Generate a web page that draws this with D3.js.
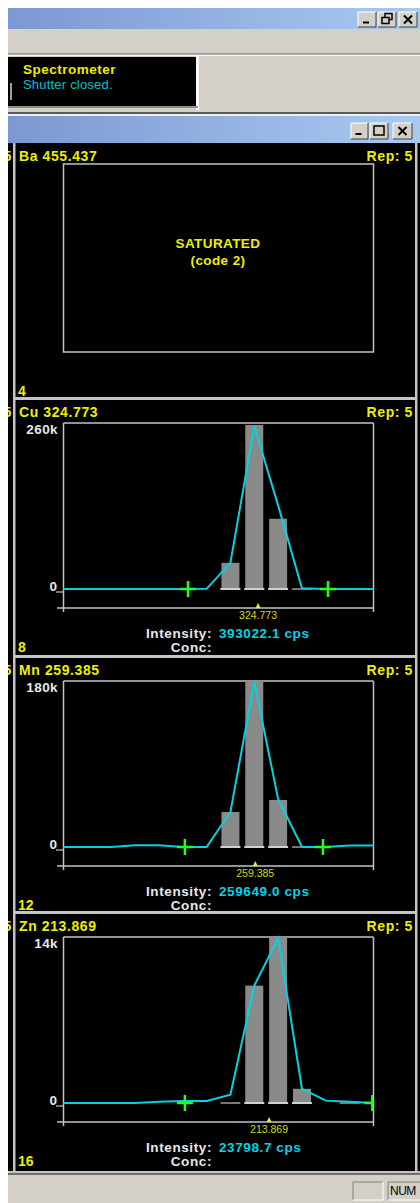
<!DOCTYPE html>
<html><head><meta charset="utf-8">
<script src="https://cdn.jsdelivr.net/npm/d3@7/dist/d3.min.js"></script>
<style>html,body{margin:0;padding:0;background:#fff;overflow:hidden}svg{display:block}</style>
</head><body>
<script>
// ---------- data ----------
const panelTitles = ["Ba 455.437", "Cu 324.773", "Mn 259.385", "Zn 213.869"];
const panelNumbers = ["4", "8", "12", "16"];
const repLabel = "Rep: 5";
const channels = [0,1,2,3,4,5,6,7,8,9,10,11,12,13];
const yMaxValues = [260000, 180000, 14000];
const yMaxLabels = ["260k", "180k", "14k"];
const peakLabels = ["324.773", "259.385", "213.869"];
const peakChannel = [8.16, 8.04, 8.62];
const intensities = ["393022.1 cps", "259649.0 cps", "23798.7 cps"];
const cuLine = [0,0,0,0,0,0,300,41000,255000,131000,1000,0,0,0];
const mnLine = [0,0,0,2000,2000,0,0,38000,179000,52000,0,0,1500,1500];
const znLine = [0,0,0,0,100,170,170,700,9900,13900,1200,200,100,0];
const cuBars = [0,0,0,0,0,0,0,41000,257000,110000,0,0,0,0];
const mnBars = [0,0,0,0,0,0,0,38000,180000,51000,0,0,0,0];
const znBars = [0,0,0,0,0,0,0,0,9900,14000,1200,0,0,0];
const floorChannels = [[7,8,9,10],[7,8,9,10],[7,8,9,10,12]];
const bkgLeft = [5.22, 5.09, 5.09];
const bkgRight = [11.09, 10.88, 12.95];
const saturatedText = ["SATURATED", "(code 2)"];

const lineSeries = [cuLine, mnLine, znLine];
const barSeries = [cuBars, mnBars, znBars];

// ---------- layout ----------
const W = 420, H = 1203;
const panelTops = [143, 399, 657, 913];
const FONT = "'Liberation Sans', Arial, sans-serif";
const YEL = "#eeee00", CYAN = "#00d4e4", WHITE = "#e8e8e8", GRID = "#c4c4c4";

const svg = d3.select("body").append("svg").attr("width", W).attr("height", H);
const defs = svg.append("defs");
const grad = defs.append("linearGradient").attr("id", "tb").attr("x1", 0).attr("x2", 1);
grad.append("stop").attr("offset", 0).attr("stop-color", "#7b98d2");
grad.append("stop").attr("offset", 1).attr("stop-color", "#a8caf1");

svg.append("rect").attr("width", W).attr("height", H).attr("fill", "#fff");

// outer title bar
svg.append("rect").attr("x", 8).attr("y", 8).attr("width", W - 8).attr("height", 21).attr("fill", "url(#tb)");
// grey band
svg.append("rect").attr("x", 8).attr("y", 29).attr("width", W - 8).attr("height", 88).attr("fill", "#d4d0c8");
svg.append("rect").attr("x", 8).attr("y", 53).attr("width", W - 8).attr("height", 1.5).attr("fill", "#9a9890");
svg.append("rect").attr("x", 8).attr("y", 55).attr("width", W - 8).attr("height", 1).attr("fill", "#f4f4f0");
// spectrometer status box
svg.append("rect").attr("x", 8).attr("y", 57).attr("width", 188).attr("height", 49).attr("fill", "#000");
svg.append("rect").attr("x", 196).attr("y", 55).attr("width", 3).attr("height", 55).attr("fill", "#fafafa");
svg.append("rect").attr("x", 8).attr("y", 106).attr("width", 190).attr("height", 2).attr("fill", "#8e8c86");
svg.append("rect").attr("x", 10).attr("y", 83).attr("width", 2).attr("height", 17).attr("fill", "#a0a0a0");
svg.append("text").attr("x", 23).attr("y", 69).attr("dominant-baseline", "central")
  .attr("font-family", FONT).attr("font-weight", "bold").attr("font-size", 13.5).attr("fill", YEL).attr("letter-spacing", 0.5).text("Spectrometer");
svg.append("text").attr("x", 23).attr("y", 84).attr("dominant-baseline", "central")
  .attr("font-family", FONT).attr("font-size", 13).attr("letter-spacing", 0.2).attr("fill", "#00c0c8").text("Shutter closed.");
// inner window title bar
svg.append("rect").attr("x", 8).attr("y", 112).attr("width", W - 8).attr("height", 2).attr("fill", "#5a5a5a");
svg.append("rect").attr("x", 8).attr("y", 114).attr("width", W - 8).attr("height", 2).attr("fill", "#f0f0f0");
svg.append("rect").attr("x", 8).attr("y", 116).attr("width", W - 8).attr("height", 27).attr("fill", "url(#tb)");

function winButton(x, y, w, h, kind) {
  const g = svg.append("g");
  g.append("rect").attr("x", x).attr("y", y).attr("width", w).attr("height", h).attr("fill", "#d4d0c8");
  g.append("path").attr("d", `M${x},${y + h}V${y}H${x + w}`).attr("stroke", "#fff").attr("fill", "none");
  g.append("path").attr("d", `M${x},${y + h}H${x + w}V${y}`).attr("stroke", "#404040").attr("fill", "none");
  const cx = x + w / 2, cy = y + h / 2;
  if (kind === "min") g.append("rect").attr("x", cx - 4).attr("y", cy + 2).attr("width", 6).attr("height", 2).attr("fill", "#000");
  if (kind === "max") g.append("rect").attr("x", cx - 5).attr("y", cy - 5).attr("width", 10).attr("height", 9).attr("fill", "none").attr("stroke", "#000").attr("stroke-width", 1.5);
  if (kind === "restore") {
    g.append("rect").attr("x", cx - 2).attr("y", cy - 6).attr("width", 7).attr("height", 6).attr("fill", "none").attr("stroke", "#000").attr("stroke-width", 1.5);
    g.append("rect").attr("x", cx - 5).attr("y", cy - 2).attr("width", 7).attr("height", 6).attr("fill", "#d4d0c8").attr("stroke", "#000").attr("stroke-width", 1.5);
  }
  if (kind === "close") g.append("path").attr("d", `M${cx - 4},${cy - 4}L${cx + 4},${cy + 4}M${cx + 4},${cy - 4}L${cx - 4},${cy + 4}`).attr("stroke", "#000").attr("stroke-width", 2);
}
winButton(358, 12, 18, 15, "min");
winButton(378, 12, 18, 15, "restore");
winButton(399, 12, 18, 15, "close");
winButton(351, 123, 17, 16, "min");
winButton(370, 123, 18, 16, "max");
winButton(393, 123, 19, 16, "close");

// black work area
svg.append("rect").attr("x", 8).attr("y", 143).attr("width", W - 8).attr("height", 1029).attr("fill", "#000");

// x scale shared by the spectra
const x = d3.scaleLinear().domain([0, 13]).range([63.5, 373.5]);

panelTops.forEach((top, i) => {
  // clipped digit from the neighbouring pane
  svg.append("text").attr("x", 3.5).attr("y", top + 13).attr("dominant-baseline", "central")
    .attr("font-family", FONT).attr("font-weight", "bold").attr("font-size", 14).attr("fill", YEL).text("5");
  // separator
  if (i > 0) svg.append("rect").attr("x", 14).attr("y", top - 2).attr("width", 403).attr("height", 3).attr("fill", GRID);
  // title
  svg.append("text").attr("x", 19).attr("y", top + 13).attr("dominant-baseline", "central")
    .attr("font-family", FONT).attr("font-weight", "bold").attr("font-size", 14).attr("letter-spacing", 0.6)
    .attr("fill", YEL).text(panelTitles[i]);
  svg.append("text").attr("x", 413).attr("y", top + 13).attr("dominant-baseline", "central").attr("text-anchor", "end")
    .attr("font-family", FONT).attr("font-weight", "bold").attr("font-size", 14).attr("letter-spacing", 0.6)
    .attr("fill", YEL).text(repLabel);
  svg.append("text").attr("x", 18).attr("y", top + 247.5).attr("dominant-baseline", "central")
    .attr("font-family", FONT).attr("font-weight", "bold").attr("font-size", 14).attr("fill", YEL).text(panelNumbers[i]);

  if (i === 0) {
    svg.append("rect").attr("x", x(0)).attr("y", top + 21).attr("width", x(13) - x(0)).attr("height", 188)
      .attr("fill", "none").attr("stroke", GRID).attr("stroke-width", 1.5);
    saturatedText.forEach((t, k) => {
      svg.append("text").attr("x", 218).attr("y", top + 100 + k * 17).attr("dominant-baseline", "central").attr("text-anchor", "middle")
        .attr("font-family", FONT).attr("font-weight", "bold").attr("font-size", 13.5).attr("letter-spacing", 0.4)
        .attr("fill", YEL).text(t);
    });
    return;
  }
  const j = i - 1;
  const y = d3.scaleLinear().domain([0, yMaxValues[j]]).range([top + 190, top + 24]);
  const g = svg.append("g");
  const clipId = "clip" + j;
  defs.append("clipPath").attr("id", clipId).append("rect")
    .attr("x", x(0)).attr("y", y(yMaxValues[j]) - 4).attr("width", x(13) - x(0)).attr("height", 200);

  // frame
  g.append("line").attr("x1", x(0)).attr("x2", x(13)).attr("y1", y(yMaxValues[j])).attr("y2", y(yMaxValues[j])).attr("stroke", GRID).attr("stroke-width", 1.5);
  g.append("line").attr("x1", x(0)).attr("x2", x(0)).attr("y1", y(yMaxValues[j])).attr("y2", top + 213).attr("stroke", GRID).attr("stroke-width", 1.5);
  g.append("line").attr("x1", x(13)).attr("x2", x(13)).attr("y1", y(yMaxValues[j])).attr("y2", top + 213).attr("stroke", GRID).attr("stroke-width", 1.5);
  g.append("line").attr("x1", 57).attr("x2", x(13)).attr("y1", top + 209).attr("y2", top + 209).attr("stroke", GRID).attr("stroke-width", 1.5);
  g.append("line").attr("x1", 56).attr("x2", x(0)).attr("y1", y(0) + 3).attr("y2", y(0) + 3).attr("stroke", GRID).attr("stroke-width", 1.2);
  // y labels
  g.append("text").attr("x", 58).attr("y", y(yMaxValues[j]) + 6).attr("dominant-baseline", "central").attr("text-anchor", "end")
    .attr("font-family", FONT).attr("font-weight", "bold").attr("font-size", 13.5).attr("letter-spacing", 0.4).attr("fill", WHITE).text(yMaxLabels[j]);
  g.append("text").attr("x", 57).attr("y", y(0) - 3).attr("dominant-baseline", "central").attr("text-anchor", "end")
    .attr("font-family", FONT).attr("font-weight", "bold").attr("font-size", 13.5).attr("fill", WHITE).text("0");

  // bars
  const bars = channels.filter(c => barSeries[j][c] > 0);
  g.selectAll("rect.bar").data(bars).join("rect").attr("class", "bar")
    .attr("x", c => x(c) - 9).attr("width", 18)
    .attr("y", c => y(barSeries[j][c])).attr("height", c => y(0) - y(barSeries[j][c]))
    .attr("fill", "#8a8a8a");
  g.selectAll("rect.floor").data(floorChannels[j]).join("rect").attr("class", "floor")
    .attr("x", c => x(c) - 10).attr("width", 20).attr("y", y(0) - 1).attr("height", 2)
    .attr("fill", c => barSeries[j][c] > 0 ? "#d0d0d0" : "#777");

  // line
  const line = d3.line().x(c => x(c)).y(c => y(lineSeries[j][c]));
  g.append("path").datum(channels).attr("d", line).attr("fill", "none").attr("stroke", CYAN).attr("stroke-width", 2);

  // background correction crosses
  const cg = g.append("g").attr("clip-path", `url(#${clipId})`);
  [bkgLeft[j], bkgRight[j]].forEach(c => {
    const cx = x(c), cy = y(0);
    cg.append("path").attr("d", `M${cx - 8},${cy}H${cx + 8}M${cx},${cy - 8}V${cy + 8}`)
      .attr("stroke", "#22ff22").attr("stroke-width", 2.5);
  });

  // peak marker
  const px = x(peakChannel[j]);
  g.append("path").attr("d", `M${px - 2.5},${top + 209}L${px},${top + 204}L${px + 2.5},${top + 209}Z`).attr("fill", YEL);
  g.append("text").attr("x", px).attr("y", top + 216).attr("dominant-baseline", "central").attr("text-anchor", "middle")
    .attr("font-family", FONT).attr("font-size", 10.5).attr("fill", "#d8d800").text(peakLabels[j]);

  // intensity
  g.append("text").attr("x", 212).attr("y", top + 234).attr("dominant-baseline", "central").attr("text-anchor", "end")
    .attr("font-family", FONT).attr("font-weight", "bold").attr("font-size", 13.5).attr("letter-spacing", 0.6).attr("fill", WHITE).text("Intensity:");
  g.append("text").attr("x", 219).attr("y", top + 234).attr("dominant-baseline", "central")
    .attr("font-family", FONT).attr("font-weight", "bold").attr("font-size", 13.5).attr("letter-spacing", 0.6).attr("fill", CYAN).text(intensities[j]);
  g.append("text").attr("x", 212).attr("y", top + 248.5).attr("dominant-baseline", "central").attr("text-anchor", "end")
    .attr("font-family", FONT).attr("font-weight", "bold").attr("font-size", 13.5).attr("letter-spacing", 0.6).attr("fill", WHITE).text("Conc:");
});

// white strip on the left, vertical frame lines
svg.append("rect").attr("x", 0).attr("y", 0).attr("width", 8).attr("height", H).attr("fill", "#fff");
svg.append("rect").attr("x", 13).attr("y", 143).attr("width", 2.5).attr("height", 1030).attr("fill", GRID);
svg.append("rect").attr("x", 415).attr("y", 143).attr("width", 2.5).attr("height", 1030).attr("fill", GRID);

// status bar
svg.append("rect").attr("x", 8).attr("y", 1171).attr("width", W - 8).attr("height", 2).attr("fill", GRID);
svg.append("rect").attr("x", 8).attr("y", 1173).attr("width", W - 8).attr("height", 2).attr("fill", "#6e6e6e");
svg.append("rect").attr("x", 8).attr("y", 1175).attr("width", W - 8).attr("height", 28).attr("fill", "#d4d0c8");
[[353, 30], [388, 34]].forEach(([bx, bw]) => {
  svg.append("path").attr("d", `M${bx},${1200}V${1182}H${bx + bw}`).attr("stroke", "#808080").attr("fill", "none");
  svg.append("path").attr("d", `M${bx},${1200}H${bx + bw}V${1182}`).attr("stroke", "#fff").attr("fill", "none");
});
svg.append("text").attr("x", 390).attr("y", 1191).attr("dominant-baseline", "central")
  .attr("font-family", FONT).attr("font-size", 12).attr("letter-spacing", -0.5).attr("fill", "#000").text("NUM");
</script>
</body></html>
